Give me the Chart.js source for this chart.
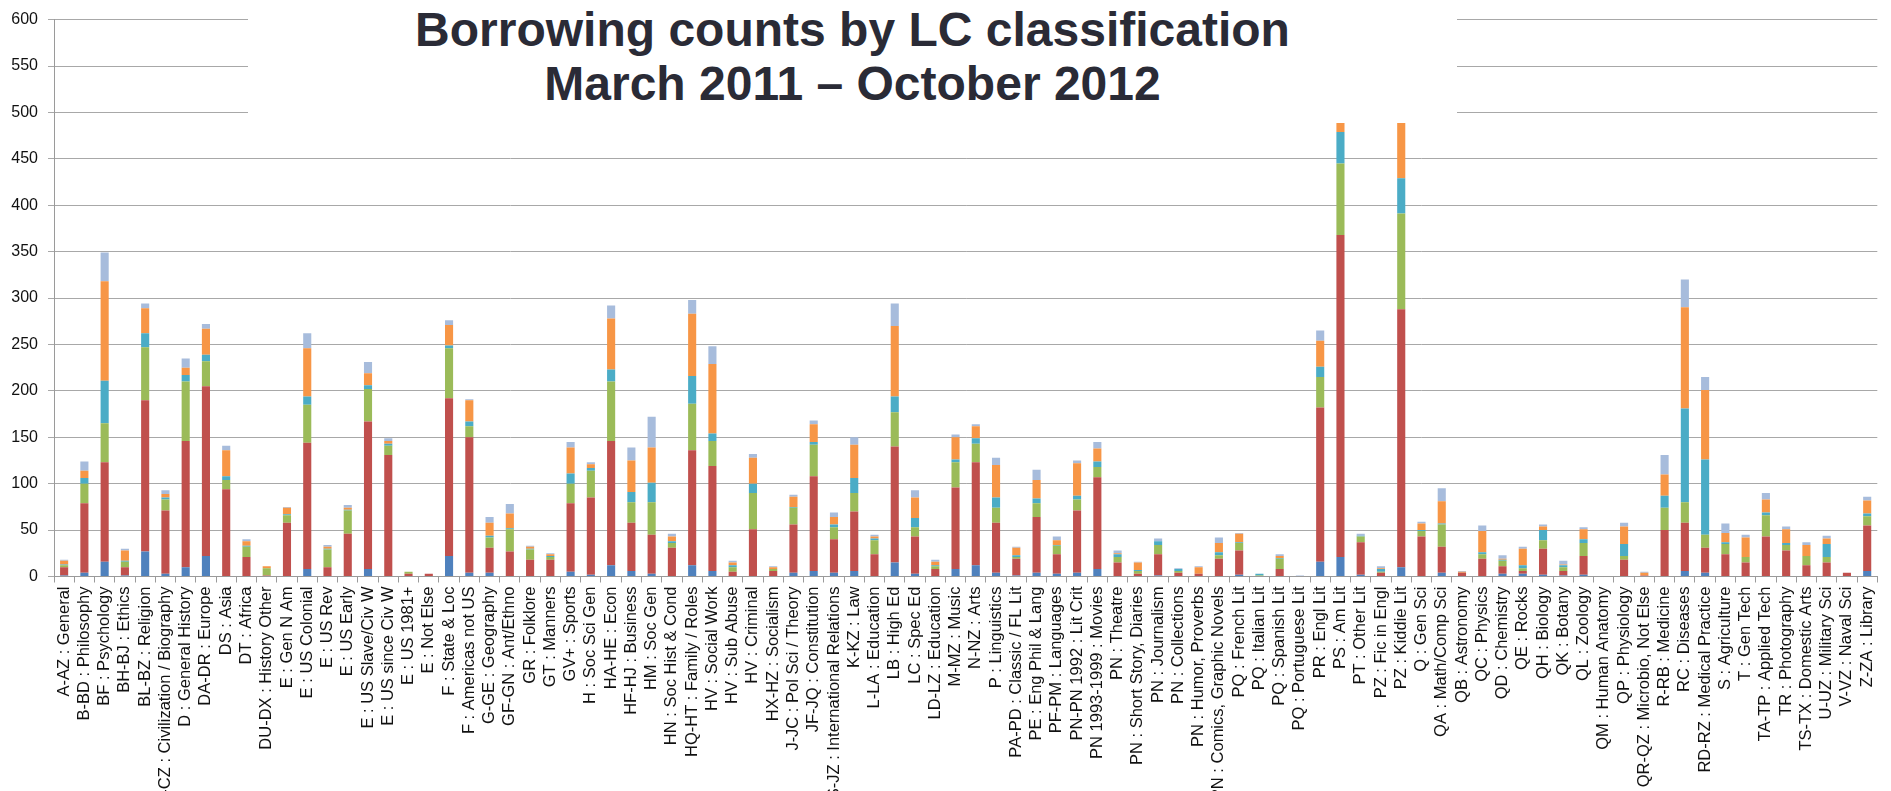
<!DOCTYPE html>
<html>
<head>
<meta charset="utf-8">
<script src="https://cdn.jsdelivr.net/npm/chart.js@4.4.1/dist/chart.umd.min.js"></script>
<style>
  html, body { margin: 0; padding: 0; background: #ffffff; overflow: hidden; }
  #wrap { position: relative; width: 1891px; height: 791px; }
  #chart { position: absolute; left: 0; top: 0; }
  #title {
    position: absolute; left: 248px; top: 0; width: 1209px; height: 123px;
    background: #ffffff; text-align: center;
    font-family: "Liberation Sans", Arial, sans-serif; font-weight: bold;
    font-size: 48px; line-height: 54px; color: #2a2b36; padding-top: 3px; box-sizing: border-box;
  }
</style>
</head>
<body>
<div id="wrap">
  <canvas id="chart" width="1891" height="791"></canvas>
  <div id="title">Borrowing counts by LC classification<br>March 2011 – October 2012</div>
</div>
<script>
const categories = [
  "A-AZ : General","B-BD : Philosophy","BF : Psychology","BH-BJ : Ethics","BL-BZ : Religion",
  "C-CZ : Civilization / Biography","D : General History","DA-DR : Europe","DS : Asia","DT : Africa",
  "DU-DX : History Other","E : Gen N Am","E : US Colonial","E : US Rev","E : US Early",
  "E : US Slave/Civ W","E : US since Civ W","E : US 1981+","E : Not Else","F : State & Loc",
  "F : Americas not US","G-GE : Geography","GF-GN : Ant/Ethno","GR : Folklore","GT : Manners",
  "GV+ : Sports","H : Soc Sci Gen","HA-HE : Econ","HF-HJ : Business","HM : Soc Gen",
  "HN : Soc Hist & Cond","HQ-HT : Family / Roles","HV : Social Work","HV : Sub Abuse","HV : Criminal",
  "HX-HZ : Socialism","J-JC : Pol Sci / Theory","JF-JQ : Constitution","JS-JZ : International Relations","K-KZ : Law",
  "L-LA : Education","LB : High Ed","LC : Spec Ed","LD-LZ : Education","M-MZ : Music",
  "N-NZ : Arts","P : Linguistics","PA-PD : Classic / FL Lit","PE : Eng Phil & Lang","PF-PM : Languages",
  "PN-PN 1992 : Lit Crit","PN 1993-1999 : Movies","PN : Theatre","PN : Short Story, Diaries","PN : Journalism",
  "PN : Collections","PN : Humor, Proverbs","PN : Comics, Graphic Novels","PQ : French Lit","PQ : Italian Lit",
  "PQ : Spanish Lit","PQ : Portuguese Lit","PR : Engl Lit","PS : Am Lit","PT : Other Lit",
  "PZ : Fic in Engl","PZ : Kiddie Lit","Q : Gen Sci","QA : Math/Comp Sci","QB : Astronomy",
  "QC : Physics","QD : Chemistry","QE : Rocks","QH : Biology","QK : Botany",
  "QL : Zoology","QM : Human Anatomy","QP : Physiology","QR-QZ : Microbio, Not Else","R-RB : Medicine",
  "RC : Diseases","RD-RZ : Medical Practice","S : Agriculture","T : Gen Tech","TA-TP : Applied Tech",
  "TR : Photography","TS-TX : Domestic Arts","U-UZ : Military Sci","V-VZ : Naval Sci","Z-ZA : Library"
];

const seriesBlue = [1,4,16,1,27,3,10,22,0,0, 0,0,8,0,0,8,0,0,0,22, 4,4,0,0,0,5,2,12,6,3, 0,12,6,0,0,0,4,6,4,6, 0,15,3,0,8,12,4,1,4,3, 4,8,0,0,1,0,0,0,2,0, 0,0,16,21,2,0,10,0,4,0, 0,3,3,2,1,2,0,0,0,0, 6,4,0,0,0,0,0,0,0,6];
const seriesRed = [9,75,107,9,163,68,136,183,94,21, 1,58,136,10,46,159,131,3,3,170, 146,27,27,18,18,74,83,134,52,42, 31,124,113,5,51,6,52,102,36,64, 24,125,40,8,88,111,54,18,60,21, 67,99,15,3,23,4,3,19,26,0, 8,0,166,347,35,4,278,43,28,4, 19,8,3,28,5,20,0,18,1,50, 52,27,24,15,43,28,12,15,4,49];
const seriesGreen = [2,21,42,6,57,12,64,27,10,11, 8,8,41,19,25,35,10,2,0,54, 12,11,24,11,3,21,29,64,22,35, 5,50,27,5,39,2,18,34,13,20, 15,37,10,3,27,20,16,2,15,9, 12,11,6,3,10,2,0,4,8,1, 11,0,33,77,6,1,103,6,24,0, 5,6,3,9,4,14,0,4,0,24, 22,14,11,6,23,6,10,6,0,10];
const seriesAqua = [1,6,46,1,15,2,7,7,4,1, 0,1,9,1,1,4,2,0,0,3, 5,2,1,1,1,11,3,13,11,21, 2,30,8,2,10,0,1,3,3,16, 2,17,10,1,3,6,11,2,5,1, 4,6,3,1,4,2,0,3,1,2, 1,0,11,34,1,3,38,1,1,0, 2,1,3,11,2,4,0,13,0,13, 101,81,2,0,3,2,0,14,0,3];
const seriesOrange = [4,8,107,11,27,4,8,28,28,5, 2,7,52,2,2,13,3,0,0,22, 23,14,16,2,2,28,4,55,34,38, 5,67,75,3,28,2,11,19,8,36, 2,76,22,4,24,13,35,8,20,5, 35,14,1,8,0,0,7,10,9,0, 2,0,28,30,0,1,70,7,24,1, 23,1,18,4,1,11,0,19,3,23, 109,75,10,21,14,15,12,6,0,14];
const seriesLight = [1,10,31,2,5,4,10,5,5,2, 0,1,16,2,3,12,3,0,0,5, 1,6,10,1,1,6,2,14,14,33, 3,15,19,2,4,1,2,4,5,8, 2,24,8,2,3,2,8,1,11,4, 3,7,3,1,3,1,1,6,1,0, 2,1,11,10,2,2,10,2,14,1, 6,4,2,2,4,2,0,4,1,21, 30,14,10,3,7,3,3,3,0,4];

const seriesNames = ["Series 1","Series 2","Series 3","Series 4","Series 5","Series 6"];
const yTicks = [0,50,100,150,200,250,300,350,400,450,500,550,600];

const colors = ["#4F81BD","#C0504D","#9BBB59","#4BACC6","#F79646","#A7BCDC"];
const allSeries = [seriesBlue, seriesRed, seriesGreen, seriesAqua, seriesOrange, seriesLight];

const datasets = allSeries.map((d, i) => ({
  label: seriesNames[i],
  data: d,
  backgroundColor: colors[i],
  borderWidth: 0,
  barPercentage: 0.4,
  categoryPercentage: 1.0
}));

const tickFont = { family: "'Liberation Sans', Arial, sans-serif", size: 16.5 };
const yFont = { family: "'Liberation Sans', Arial, sans-serif", size: 16 };

new Chart(document.getElementById('chart'), {
  type: 'bar',
  data: { labels: categories, datasets: datasets },
  options: {
    responsive: false,
    animation: false,
    devicePixelRatio: 1,
    layout: { padding: { top: 16, right: 2, left: 0, bottom: 0 } },
    plugins: { legend: { display: false }, title: { display: false }, tooltip: { enabled: false } },
    scales: {
      x: {
        stacked: true,
        offset: true,
        grid: { offset: true, drawOnChartArea: false, drawTicks: true, tickLength: 6, color: '#9a9a9a' },
        border: { color: '#9a9a9a', width: 1 },
        ticks: { autoSkip: false, minRotation: 90, maxRotation: 90, padding: 4, color: '#111111', font: tickFont },
        afterFit: (s) => { s.height = 214.5; }
      },
      y: {
        stacked: true,
        min: 0, max: 600,
        afterBuildTicks: (s) => { s.ticks = yTicks.map(v => ({ value: v })); },
        grid: { color: '#a8a8a8', lineWidth: 1, tickLength: 6 },
        border: { color: '#9a9a9a', width: 1 },
        ticks: { padding: 10, color: '#111111', font: yFont },
        afterFit: (s) => { s.width = 54; }
      }
    }
  }
});
</script>
</body>
</html>
